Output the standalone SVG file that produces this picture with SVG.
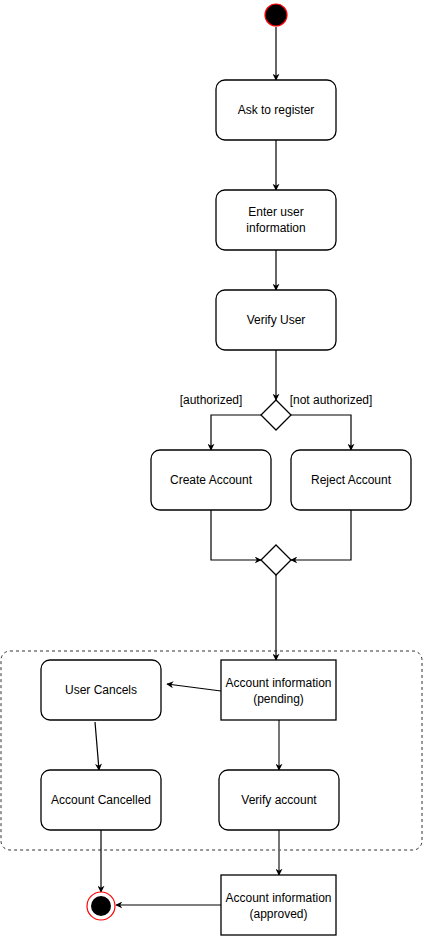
<svg xmlns="http://www.w3.org/2000/svg" width="424" height="936" viewBox="0 0 424 936">
<defs>
<marker id="ah" viewBox="0 0 10 10" refX="9" refY="5" markerWidth="7" markerHeight="7" orient="auto" markerUnits="userSpaceOnUse">
<path d="M0,0 L10,5 L0,10 L3,5 Z" fill="#000"/>
</marker>
<style>
.n{fill:#fff;stroke:#000;stroke-width:1.3}
.g{fill:#fff;stroke:#555;stroke-width:1.5}
.t{font-family:"Liberation Sans",Arial,sans-serif;font-size:12px;fill:#000;text-anchor:middle}
.c{fill:none;stroke:#000;stroke-width:1.2;marker-end:url(#ah)}
.cg{fill:none;stroke:#666;stroke-width:1.8;marker-end:url(#ah)}
.l{fill:none;stroke:#000;stroke-width:1.2}
</style>
</defs>
<rect width="424" height="936" fill="#fff"/>
<g id="container"><rect x="1" y="651" width="421" height="199" rx="9" fill="none" stroke="#333" stroke-dasharray="3,3"/></g>
<g id="connectors">
<path class="c" d="M276,27 V80"/>
<path class="c" d="M276,140 V190"/>
<path class="c" d="M276,250 V290"/>
<path class="c" d="M276,350 V400"/>
<path class="c" d="M261,415 H211 V450"/>
<path class="c" d="M291,415 H351 V450"/>
<path class="c" d="M211,510 V560 H261"/>
<path class="c" d="M351,510 V560 H291"/>
<path class="c" d="M276,575 V660"/>
<path class="c" d="M221,691 L167,684"/>
<path class="c" d="M95,722 L99,770"/>
<path class="cg" d="M279,720 V770"/>
<path class="cg" d="M279,830 V875"/>
<path class="c" d="M101,830 V892"/>
<path class="c" d="M221,905 H116"/>
</g>
<g id="start"><circle cx="276" cy="15" r="11" fill="#000" stroke="#f00" stroke-width="1.2"/></g>
<g id="ask"><rect class="n" x="216" y="80" width="120" height="60" rx="9"/><text class="t" x="276" y="114">Ask to register</text></g>
<g id="enter"><rect class="n" x="216" y="190" width="120" height="60" rx="9"/><text class="t" x="276" y="216">Enter user</text><text class="t" x="276" y="232">information</text></g>
<g id="verifyuser"><rect class="n" x="216" y="290" width="120" height="60" rx="9"/><text class="t" x="276" y="324">Verify User</text></g>
<g id="decision"><path class="n" d="M276,400 L291,415 L276,430 L261,415 Z"/><text class="t" x="211" y="404">[authorized]</text><text class="t" x="331" y="404">[not authorized]</text></g>
<g id="create"><rect class="n" x="151" y="450" width="120" height="60" rx="9"/><text class="t" x="211" y="484">Create Account</text></g>
<g id="reject"><rect class="n" x="291" y="450" width="120" height="60" rx="9"/><text class="t" x="351" y="484">Reject Account</text></g>
<g id="merge"><path class="n" d="M276,545 L291,560 L276,575 L261,560 Z"/></g>
<g id="pending"><rect class="n" x="221" y="660" width="115" height="60"/><text class="t" x="278.5" y="687">Account information</text><text class="t" x="278.5" y="703">(pending)</text></g>
<g id="usercancels"><rect class="n" x="41" y="660" width="120" height="60" rx="9"/><text class="t" x="101" y="694">User Cancels</text></g>
<g id="cancelled"><rect class="n" x="41" y="770" width="120" height="60" rx="9"/><text class="t" x="101" y="804">Account Cancelled</text></g>
<g id="verifyaccount"><rect class="n" x="219" y="770" width="120" height="60" rx="9"/><text class="t" x="279" y="804">Verify account</text></g>
<g id="approved"><rect class="n" x="221" y="875" width="115" height="60"/><text class="t" x="278.5" y="902">Account information</text><text class="t" x="278.5" y="918">(approved)</text></g>
<g id="end"><circle cx="101" cy="906" r="14" fill="#fff" stroke="#f00" stroke-width="1.2"/><circle cx="101" cy="906" r="10" fill="#000"/></g>
</svg>
